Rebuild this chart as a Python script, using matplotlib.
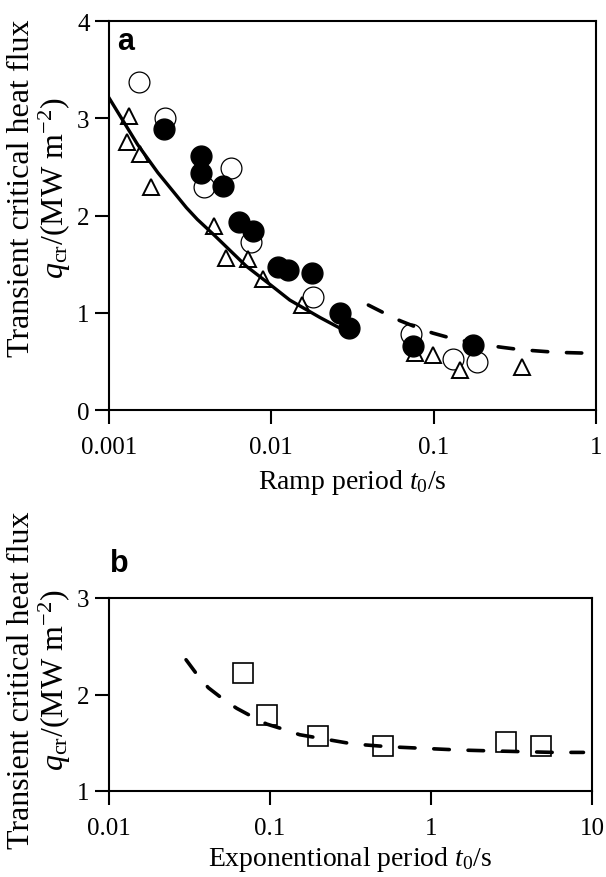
import numpy as np
import matplotlib
matplotlib.use("Agg")
import matplotlib.pyplot as plt

plt.rcParams["font.family"] = ["Liberation Serif", "DejaVu Serif"]
plt.rcParams["mathtext.fontset"] = "custom"
plt.rcParams["mathtext.rm"] = "Liberation Serif"
plt.rcParams["mathtext.it"] = "Liberation Serif:italic"

# ---- panel a : ramp period ----
open_t = [0.00152, 0.00221, 0.00386, 0.00565, 0.00747, 0.01815, 0.0726, 0.132, 0.184]
open_q = [3.37, 3.00, 2.29, 2.49, 1.73, 1.16, 0.78, 0.52, 0.49]

fill_t = [0.00218, 0.00369, 0.00369, 0.00506, 0.00632, 0.00767, 0.01094,
          0.01274, 0.0179, 0.0265, 0.0301, 0.0743, 0.174]
fill_q = [2.89, 2.61, 2.44, 2.30, 1.93, 1.84, 1.47, 1.44, 1.41, 1.00, 0.84, 0.655, 0.67]

tri_t = [0.00133, 0.0013, 0.00155, 0.00182, 0.00446, 0.00526, 0.00716,
         0.00885, 0.01538, 0.0767, 0.0995, 0.1455, 0.352]
tri_q = [3.02, 2.76, 2.63, 2.29, 1.89, 1.56, 1.55, 1.35, 1.08, 0.59, 0.57, 0.41, 0.44]

# curves
solid_t = [0.001, 0.0015, 0.002, 0.003, 0.0035, 0.0045, 0.007, 0.01, 0.013, 0.015, 0.02, 0.028]
solid_q = [3.21, 2.73, 2.44, 2.08, 1.96, 1.79, 1.48, 1.28, 1.13, 1.07, 0.95, 0.82]

dash_a_t = [0.0396, 0.0509, 0.0621, 0.0805, 0.0987, 0.129, 0.202, 0.265, 0.344, 0.568, 0.817]
dash_a_q = [1.079, 0.987, 0.918, 0.843, 0.791, 0.737, 0.671, 0.644, 0.620, 0.593, 0.586]

# ---- panel b : exponential period ----
sq_t = [0.0683, 0.0962, 0.1995, 0.501, 2.91, 4.80]
sq_q = [2.22, 1.79, 1.573, 1.47, 1.505, 1.47]

dash_b_t = [0.0301, 0.0351, 0.0414, 0.0513, 0.0621, 0.0788, 0.0953, 0.124, 0.153,
            0.205, 0.329, 0.543, 0.896, 1.48, 2.44, 5.77, 8.85]
dash_b_q = [2.36, 2.21, 2.07, 1.95, 1.857, 1.764, 1.694, 1.635, 1.583,
            1.546, 1.487, 1.459, 1.442, 1.425, 1.415, 1.40, 1.40]

W, H = 606, 878
fig = plt.figure(figsize=(W / 100, H / 100), dpi=100)

def px_axes(left, top, right, bottom):
    return fig.add_axes([left / W, 1 - bottom / H, (right - left) / W, (bottom - top) / H])

def style(ax):
    ax.set_xscale("log")
    ax.minorticks_off()
    for s in ax.spines.values():
        s.set_linewidth(1.5)
    ax.tick_params(direction="out", length=10, width=1.5, labelsize=18,
                   top=False, right=False)
    ax.tick_params(axis="x", pad=9)
    ax.tick_params(axis="y", pad=4)
    ax.xaxis.set_major_formatter(matplotlib.ticker.FuncFormatter(lambda v, p: f"{v:g}"))

dash_kw = dict(color="black", lw=2.6, dashes=(4.3, 5.2), dash_capstyle="round")

# panel a
ax1 = px_axes(109, 22, 596, 411)
style(ax1)
ax1.plot(open_t, open_q, "o", ms=15, mfc="white", mec="black", mew=0.9, ls="none", zorder=3)
ax1.plot(tri_t, tri_q, "^", ms=12, mfc="white", mec="black", mew=1.4, ls="none", zorder=4)
ax1.plot(fill_t, fill_q, "o", ms=15, mfc="black", mec="black", ls="none", zorder=5)
ax1.plot(solid_t, solid_q, "-", color="black", lw=2.4, zorder=6)
ax1.plot(dash_a_t, dash_a_q, zorder=6, **dash_kw)
ax1.set_xlim(0.001, 1)
ax1.set_ylim(0, 4)
ax1.set_yticks([0, 1, 2, 3, 4])
ax1.set_xticks([0.001, 0.01, 0.1, 1])
ax1.set_xlabel("Ramp period $t_{\\rm 0}$/s", fontsize=20, labelpad=6)

# panel b
ax2 = px_axes(109, 599, 592, 792)
style(ax2)
ax2.plot(sq_t, sq_q, "s", ms=14, mfc="white", mec="black", mew=1.2, ls="none", zorder=3)
ax2.plot(dash_b_t, dash_b_q, zorder=6, **dash_kw)
ax2.set_xlim(0.01, 10)
ax2.set_ylim(1, 3)
ax2.set_yticks([1, 2, 3])
ax2.set_xticks([0.01, 0.1, 1, 10])
ax2.set_xlabel("Exponentional period $t_{\\rm 0}$/s", fontsize=20, labelpad=3)

ylab = "Transient critical heat flux\n$q_{\\rm cr}$/(MW m$^{-2}$)"
fig.text(40 / W, 1 - 188 / H, ylab, rotation=90, ha="center", va="center",
         fontsize=23, linespacing=1.05, multialignment="center")
fig.text(40 / W, 1 - 680 / H, ylab, rotation=90, ha="center", va="center",
         fontsize=23, linespacing=1.05, multialignment="center")

fig.text(117 / W, 1 - 50 / H, "a", fontsize=22, fontweight="bold",
         family="Liberation Sans", va="baseline")
fig.text(110 / W, 1 - 572 / H, "b", fontsize=22, fontweight="bold",
         family="Liberation Sans", va="baseline")

fig.savefig("out.png", dpi=100)
